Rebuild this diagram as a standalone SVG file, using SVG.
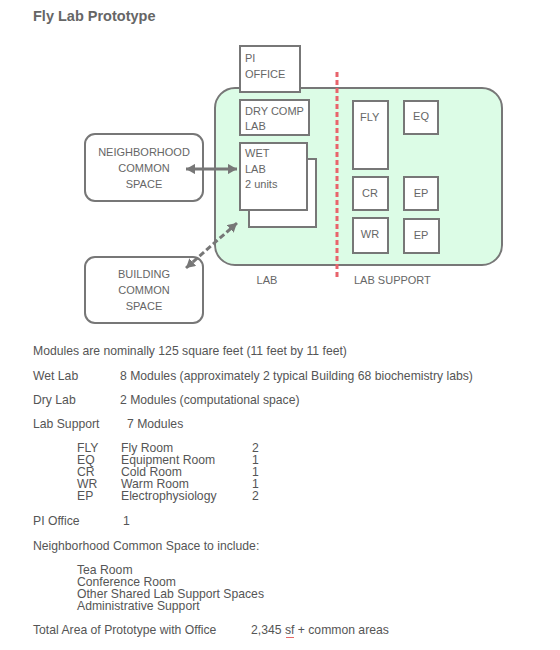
<svg xmlns="http://www.w3.org/2000/svg" width="560" height="650" viewBox="0 0 560 650">
<style>
.t{font-family:"Liberation Sans",Arial,sans-serif;font-size:12.2px;fill:#555}
.d{font-family:"Liberation Sans",Arial,sans-serif;font-size:11px;fill:#666}
.bx{fill:#fff;stroke:#777;stroke-width:2}
.c{stroke:#777;stroke-width:3;fill:none}
</style>
<defs>
<marker id="ah" viewBox="0 0 10 10" refX="10" refY="5" markerWidth="3" markerHeight="3.4" orient="auto-start-reverse" markerUnits="strokeWidth" preserveAspectRatio="none">
<path d="M0,0 L10,5 L0,10 z" fill="#777"/>
</marker>
</defs>
<rect width="560" height="650" fill="#fff"/>
<text x="33" y="21" font-family="Liberation Sans,Arial,sans-serif" font-size="14.5" font-weight="bold" fill="#666">Fly Lab Prototype</text>

<g id="lab">
<rect x="215" y="88" width="287" height="177" rx="20" fill="#dcfce6" stroke="#777" stroke-width="2"/>
<text class="d" x="267" y="284" text-anchor="middle">LAB</text>
</g>
<g id="divider">
<line x1="337" y1="72" x2="337" y2="280" stroke="#e8636b" stroke-width="3" stroke-dasharray="5,3"/>
<text class="d" x="354" y="284">LAB SUPPORT</text>
</g>
<g id="pi-office">
<rect class="bx" x="240" y="46" width="60" height="46"/>
<text class="d" x="245" y="62">PI</text>
<text class="d" x="245" y="78">OFFICE</text>
</g>
<g id="dry-lab">
<rect class="bx" x="240" y="100" width="69" height="35"/>
<text class="d" x="245" y="115">DRY COMP</text>
<text class="d" x="245" y="130">LAB</text>
</g>
<g id="wet-lab">
<rect class="bx" x="249" y="159" width="67" height="68"/>
<rect class="bx" x="240" y="143" width="67" height="67"/>
<text class="d" x="245" y="157">WET</text>
<text class="d" x="245" y="173">LAB</text>
<text class="d" x="245" y="188">2 units</text>
</g>
<g id="fly">
<rect class="bx" x="353" y="101" width="35" height="68"/>
<text class="d" x="360" y="121">FLY</text>
</g>
<g id="eq">
<rect class="bx" x="404" y="101" width="34" height="33"/>
<text class="d" x="421" y="120" text-anchor="middle">EQ</text>
</g>
<g id="cr">
<rect class="bx" x="353" y="177" width="35" height="33"/>
<text class="d" x="370" y="197" text-anchor="middle">CR</text>
</g>
<g id="ep1">
<rect class="bx" x="404" y="177" width="34" height="33"/>
<text class="d" x="421" y="197" text-anchor="middle">EP</text>
</g>
<g id="wr">
<rect class="bx" x="353" y="218" width="35" height="35"/>
<text class="d" x="370" y="238" text-anchor="middle">WR</text>
</g>
<g id="ep2">
<rect class="bx" x="404" y="219" width="35" height="34"/>
<text class="d" x="421" y="239" text-anchor="middle">EP</text>
</g>
<g id="neighborhood">
<rect class="bx" x="85" y="134" width="118" height="67" rx="10"/>
<text class="d" x="144" y="156" text-anchor="middle">NEIGHBORHOOD</text>
<text class="d" x="144" y="172" text-anchor="middle">COMMON</text>
<text class="d" x="144" y="188" text-anchor="middle">SPACE</text>
</g>
<g id="building">
<rect class="bx" x="85" y="257" width="118" height="66" rx="10"/>
<text class="d" x="144" y="278" text-anchor="middle">BUILDING</text>
<text class="d" x="144" y="294" text-anchor="middle">COMMON</text>
<text class="d" x="144" y="310" text-anchor="middle">SPACE</text>
</g>
<g id="connectors">
<line class="c" x1="186" y1="169" x2="237" y2="169" marker-start="url(#ah)" marker-end="url(#ah)"/>
<line class="c" x1="186" y1="268" x2="237" y2="223" stroke-width="3.5" stroke-dasharray="6,3" marker-start="url(#ah)" marker-end="url(#ah)"/>
</g>

<g id="notes">
<text class="t" x="33" y="355">Modules are nominally 125 square feet (11 feet by 11 feet)</text>
<text class="t" x="33" y="380">Wet Lab</text>
<text class="t" x="120" y="380">8 Modules (approximately 2 typical Building 68 biochemistry labs)</text>
<text class="t" x="33" y="404">Dry Lab</text>
<text class="t" x="120" y="404">2 Modules (computational space)</text>
<text class="t" x="33" y="428">Lab Support</text>
<text class="t" x="127" y="428">7 Modules</text>
<text class="t" x="77" y="452">FLY</text><text class="t" x="121" y="452">Fly Room</text><text class="t" x="252" y="452">2</text>
<text class="t" x="77" y="464">EQ</text><text class="t" x="121" y="464">Equipment Room</text><text class="t" x="252" y="464">1</text>
<text class="t" x="77" y="476">CR</text><text class="t" x="121" y="476">Cold Room</text><text class="t" x="252" y="476">1</text>
<text class="t" x="77" y="488">WR</text><text class="t" x="121" y="488">Warm Room</text><text class="t" x="252" y="488">1</text>
<text class="t" x="77" y="500">EP</text><text class="t" x="121" y="500">Electrophysiology</text><text class="t" x="252" y="500">2</text>
<text class="t" x="33" y="525">PI Office</text>
<text class="t" x="123" y="525">1</text>
<text class="t" x="33" y="550">Neighborhood Common Space to include:</text>
<text class="t" x="77" y="574">Tea Room</text>
<text class="t" x="77" y="586">Conference Room</text>
<text class="t" x="77" y="598">Other Shared Lab Support Spaces</text>
<text class="t" x="77" y="610">Administrative Support</text>
<text class="t" x="33" y="634">Total Area of Prototype with Office</text>
<text class="t" x="251" y="634">2,345 sf + common areas</text>
<path d="M286,637 l1,1 l1,-1 l1,1 l1,-1 l1,1 l1,-1 l1,1 l1,-1" stroke="#e04040" stroke-width="0.8" fill="none"/>
</g>
</svg>
